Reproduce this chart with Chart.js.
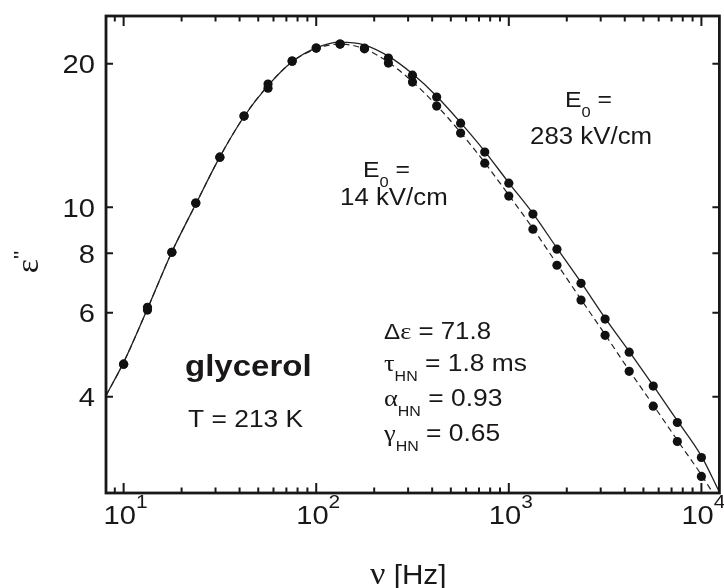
<!DOCTYPE html>
<html>
<head>
<meta charset="utf-8">
<script src="https://cdn.jsdelivr.net/npm/chart.js@4.4.1/dist/chart.umd.min.js"></script>
<style>
  html, body { margin: 0; padding: 0; background: #fff; }
  #wrap { width: 724px; height: 588px; }
</style>
</head>
<body>
<div id="wrap"><canvas id="chart"></canvas></div>
<script>
// measured frequencies (Hz)
const freqs = [10, 13.3, 17.8, 23.7, 31.6, 42.2, 56.2, 75, 100, 133, 178, 237, 316, 422, 562, 750, 1000, 1334, 1778, 2371, 3162, 4217, 5623, 7499, 10000];
// eps'' at E0 = 283 kV/cm
const epsHigh = [4.68, 6.16, 8.04, 10.2, 12.73, 15.53, 18.13, 20.26, 21.58, 22.0, 21.58, 20.56, 18.93, 17.03, 15.01, 13.05, 11.23, 9.67, 8.16, 6.92, 5.82, 4.96, 4.21, 3.53, 2.98];
// eps'' at E0 = 14 kV/cm
const epsLow = [4.68, 6.08, 8.04, 10.2, 12.73, 15.53, 17.78, 20.26, 21.58, 22.0, 21.5, 20.07, 18.31, 16.30, 14.31, 12.37, 10.55, 8.99, 7.55, 6.38, 5.38, 4.52, 3.82, 3.22, 2.72];

// HN fit curves
const fitFreqHigh = [8.1, 10, 13.3, 17.8, 23.7, 31.6, 42.2, 56.2, 75, 100, 133, 178, 237, 316, 422, 562, 750, 1000, 1334, 1778, 2371, 3162, 4217, 5623, 7499, 10000, 12400];
const fitHigh = [4.02, 4.72, 6.12, 8.05, 10.15, 12.75, 15.5, 18.0, 20.2, 21.6, 22.2, 21.9, 20.75, 19.05, 17.1, 15.05, 13.1, 11.25, 9.7, 8.2, 6.95, 5.85, 4.98, 4.22, 3.56, 3.0, 2.52];
const fitFreqLow = [8.1, 10, 13.3, 17.8, 23.7, 31.6, 42.2, 56.2, 75, 100, 133, 178, 237, 316, 422, 562, 750, 1000, 1334, 1778, 2371, 3162, 4217, 5623, 7499, 10000, 11400];
const fitLow = [4.02, 4.72, 6.12, 8.05, 10.15, 12.75, 15.5, 18.0, 20.2, 21.5, 22.0, 21.5, 20.15, 18.35, 16.35, 14.35, 12.4, 10.6, 9.02, 7.6, 6.4, 5.4, 4.54, 3.84, 3.24, 2.74, 2.52];

const yTicks = [4, 6, 8, 10, 20];
const xMajor = [10, 100, 1000, 10000];
const xMajorExp = ['1', '2', '3', '4'];
const xMinor = [9, 20, 30, 40, 50, 60, 70, 80, 90, 200, 300, 400, 500, 600, 700, 800, 900, 2000, 3000, 4000, 5000, 6000, 7000, 8000, 9000];

const SANS = '"Liberation Sans", Arial, sans-serif';
const SERIF = '"Liberation Serif", "Times New Roman", serif';
const INK = '#1a1718';
const SX = 1.1; // the original lettering is a bit wide

const pts = (xs, ys) => xs.map((x, i) => ({ x: x, y: ys[i] }));

// draw a row of text pieces: [text, size, dy, family, weight]
function drawRuns(ctx, x, y, runs, align) {
  let total = 0;
  runs.forEach(r => {
    ctx.font = (r[4] || 'normal') + ' ' + r[1] + 'px ' + (r[3] || SANS);
    r.w = ctx.measureText(r[0]).width * SX;
    total += r.w;
  });
  let cx = x;
  if (align === 'center') cx = x - total / 2;
  if (align === 'right') cx = x - total;
  runs.forEach(r => {
    ctx.save();
    ctx.translate(cx, y + (r[2] || 0));
    ctx.scale(SX, 1);
    ctx.font = (r[4] || 'normal') + ' ' + r[1] + 'px ' + (r[3] || SANS);
    ctx.textAlign = 'left';
    ctx.textBaseline = 'alphabetic';
    ctx.fillText(r[0], 0, 0);
    ctx.restore();
    cx += r.w;
  });
}

const framePlugin = {
  id: 'frame',
  afterDatasetsDraw(chart) {
    const ctx = chart.ctx;
    const a = chart.chartArea;
    const xs = chart.scales.x;
    const ys = chart.scales.y;
    ctx.save();
    ctx.strokeStyle = INK;
    ctx.fillStyle = INK;

    // ticks, inward on all four sides
    ctx.lineWidth = 2;
    ctx.beginPath();
    xMajor.forEach(v => {
      const px = xs.getPixelForValue(v);
      ctx.moveTo(px, a.bottom); ctx.lineTo(px, a.bottom - 10);
      ctx.moveTo(px, a.top); ctx.lineTo(px, a.top + 10);
    });
    xMinor.forEach(v => {
      const px = xs.getPixelForValue(v);
      ctx.moveTo(px, a.bottom); ctx.lineTo(px, a.bottom - 5.5);
      ctx.moveTo(px, a.top); ctx.lineTo(px, a.top + 5.5);
    });
    yTicks.forEach(v => {
      const py = ys.getPixelForValue(v);
      ctx.moveTo(a.left, py); ctx.lineTo(a.left + 7, py);
      ctx.moveTo(a.right, py); ctx.lineTo(a.right - 7, py);
    });
    ctx.stroke();

    // frame
    ctx.lineWidth = 2.8;
    ctx.strokeRect(a.left, a.top, a.right - a.left, a.bottom - a.top);

    // tick labels
    yTicks.forEach(v => {
      const py = ys.getPixelForValue(v);
      drawRuns(ctx, a.left - 11, py + 9.5, [[String(v), 26.5]], 'right');
    });
    xMajor.forEach((v, i) => {
      const px = xs.getPixelForValue(v);
      drawRuns(ctx, px + 2, a.bottom + 31, [['10', 26.5], [xMajorExp[i], 19, -16]], 'center');
    });

    // axis titles
    drawRuns(ctx, 370, 584, [['\u03bd', 31, 0, SERIF], [' [Hz]', 27]], 'left');
    ctx.save();
    ctx.translate(38, 262);
    ctx.rotate(-Math.PI / 2);
    drawRuns(ctx, 0, 0, [['\u03b5', 31, 0, SERIF], ["''", 20, -10]], 'center');
    ctx.restore();

    // annotations
    drawRuns(ctx, 565, 107, [['E', 22.5], ['0', 15, 10], [' =', 22.5]], 'left');
    drawRuns(ctx, 530, 144, [['283 kV/cm', 23.5]], 'left');
    drawRuns(ctx, 363, 177, [['E', 22.5], ['0', 15, 10], [' =', 22.5]], 'left');
    drawRuns(ctx, 340, 205, [['14 kV/cm', 23.5]], 'left');
    drawRuns(ctx, 185, 376, [['glycerol', 30, 0, SANS, 'bold']], 'left');
    drawRuns(ctx, 188, 427, [['T = 213 K', 24]], 'left');
    drawRuns(ctx, 384, 339, [['\u0394', 22], ['\u03b5', 24, 0, SERIF], [' = 71.8', 23.5]], 'left');
    drawRuns(ctx, 384, 371, [['\u03c4', 24, 0, SERIF], ['HN', 14.5, 10], [' = 1.8 ms', 24]], 'left');
    drawRuns(ctx, 384, 406, [['\u03b1', 24, 0, SERIF], ['HN', 14.5, 10], [' = 0.93', 24]], 'left');
    drawRuns(ctx, 384, 441, [['\u03b3', 24, 0, SERIF], ['HN', 14.5, 10], [' = 0.65', 24]], 'left');

    ctx.restore();
  }
};

new Chart(document.getElementById('chart'), {
  type: 'line',
  data: {
    datasets: [
      {
        label: 'E0 = 283 kV/cm',
        data: pts(freqs, epsHigh),
        showLine: false,
        pointRadius: 4.6,
        pointBackgroundColor: '#111',
        pointBorderWidth: 0,
      },
      {
        label: 'E0 = 14 kV/cm',
        data: pts(freqs, epsLow),
        showLine: false,
        pointRadius: 4.6,
        pointBackgroundColor: '#111',
        pointBorderWidth: 0,
      },
      {
        label: 'fit 283 kV/cm',
        data: pts(fitFreqHigh, fitHigh),
        borderColor: '#222',
        borderWidth: 1.3,
        pointRadius: 0,
        cubicInterpolationMode: 'monotone',
      },
      {
        label: 'fit 14 kV/cm',
        data: pts(fitFreqLow, fitLow),
        borderColor: '#222',
        borderWidth: 1.2,
        borderDash: [6, 4],
        pointRadius: 0,
        cubicInterpolationMode: 'monotone',
      },
    ],
  },
  options: {
    responsive: true,
    maintainAspectRatio: false,
    animation: false,
    layout: { padding: { left: 106, right: 2, top: 16, bottom: 95 } },
    plugins: { legend: { display: false }, tooltip: { enabled: false } },
    scales: {
      x: { type: 'logarithmic', min: 8.1, max: 12400, display: false },
      y: { type: 'logarithmic', min: 2.51, max: 25.2, display: false },
    },
  },
  plugins: [framePlugin],
});
</script>
</body>
</html>
